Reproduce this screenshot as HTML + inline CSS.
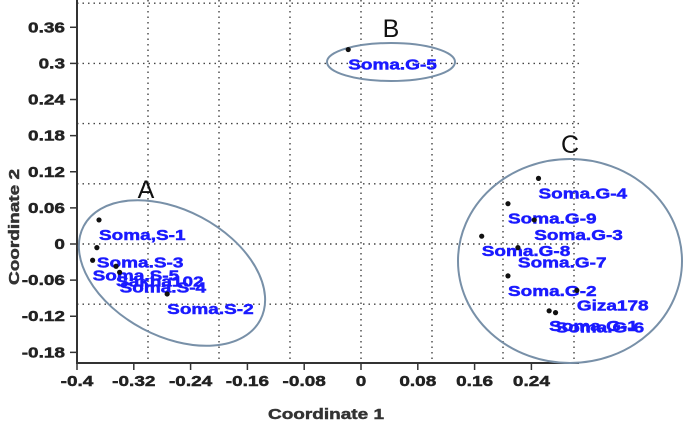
<!DOCTYPE html>
<html><head><meta charset="utf-8"><style>
body{margin:0;background:#fff;}
svg{display:block;font-family:"Liberation Sans",Arial,sans-serif;}
</style></head><body>
<svg id="chart" width="685" height="422" viewBox="0 0 685 422"></svg>
<script>
const names=["Soma.G-5","Soma,S-1","Soma.S-3","Soma.S-5","Sakha102","Soma.S-4","Soma.S-2","Soma.G-4","Soma.G-9","Soma.G-3","Soma.G-8","Soma.G-7","Soma.G-2","Giza178","Soma.G-1","Soma.G-6"];
const xVals=[-0.018,-0.369,-0.372,-0.378,-0.345,-0.340,-0.273,0.250,0.207,0.244,0.170,0.221,0.207,0.304,0.265,0.274];
const yVals=[0.323,0.040,-0.006,-0.027,-0.037,-0.047,-0.083,0.109,0.067,0.040,0.013,-0.006,-0.053,-0.077,-0.111,-0.114];
const xTicks=[-0.4,-0.32,-0.24,-0.16,-0.08,0,0.08,0.16,0.24];
const yTicks=[0.36,0.3,0.24,0.18,0.12,0.06,0,-0.06,-0.12,-0.18];
const xGrid=[-0.3,-0.2,-0.1,0,0.1,0.2,0.3];
const yGrid=[0.4,0.3,0.2,0.1,0,-0.1];
const NS="http://www.w3.org/2000/svg";
const svg=document.getElementById('chart');
const X=v=>361+v*710, Y=v=>244-v*602;
const L=77,R=579,T=0,B=363;
function mk(tag,a,parent){const e=document.createElementNS(NS,tag);for(const k in a)e.setAttribute(k,a[k]);(parent||svg).appendChild(e);return e;}
function wt(x,y,size,anchor,fill){return mk('text',{x:0,y:0,transform:'translate('+x+','+y+') scale(1,0.76)','text-anchor':anchor,'font-size':size,'font-weight':'bold',fill:fill,stroke:fill,'stroke-width':0.6});}
xGrid.forEach(v=>{const e=mk('line',{x1:X(v),x2:X(v),y1:T,y2:B,stroke:'#444','stroke-width':1.4,'stroke-dasharray':'1.5,4'});

});
yGrid.forEach(v=>{const e=mk('line',{x1:L,x2:R,y1:Y(v),y2:Y(v),stroke:'#444','stroke-width':1.4,'stroke-dasharray':'1.5,4'});

});
let e=mk('line',{x1:L,x2:L,y1:T,y2:B+1,stroke:'#333','stroke-width':2});


e=mk('line',{x1:L-1,x2:R,y1:B,y2:B,stroke:'#333','stroke-width':2});


xTicks.forEach(v=>{mk('line',{x1:X(v),x2:X(v),y1:B,y2:B+7,stroke:'#333','stroke-width':1.5});
const t=wt(X(v),B+23,19,'middle','#222');t.textContent=String(v);

});
yTicks.forEach(v=>{mk('line',{x1:L-7,x2:L,y1:Y(v),y2:Y(v),stroke:'#333','stroke-width':1.5});
const t=wt(L-12,Y(v)+5,19,'end','#222');t.textContent=String(v);

});
e=wt(326,419,19,'middle','#333');e.textContent='Coordinate 1';


e=mk('text',{x:0,y:0,transform:'translate(19,227) rotate(-90) scale(1,0.76)','text-anchor':'middle','font-size':19,'font-weight':'bold',fill:'#333',stroke:'#333','stroke-width':0.6});e.textContent='Coordinate 2';


e=mk('ellipse',{cx:0,cy:0,rx:100,ry:63,transform:'translate(172,273) rotate(28)',fill:'none',stroke:'#7890a8','stroke-width':2});


e=mk('ellipse',{cx:391,cy:62,rx:64,ry:19,fill:'none',stroke:'#7890a8','stroke-width':2});


e=mk('ellipse',{cx:570,cy:261,rx:112,ry:102,fill:'none',stroke:'#7890a8','stroke-width':2});


[['A',146,198],['B',391,37],['C',570,153]].forEach(([s,x,y])=>{const t=mk('text',{x:x,y:y,'text-anchor':'middle','font-size':25,fill:'#111'});t.textContent=s;

});
names.forEach((n,i)=>{const px=X(xVals[i]),py=Y(yVals[i]);
const c=mk('circle',{cx:px,cy:py,r:2.6,fill:'#111'});


const t=wt(px,py+20,19,'start','#1a1aff');t.textContent=n;

});
</script>
</body></html>
